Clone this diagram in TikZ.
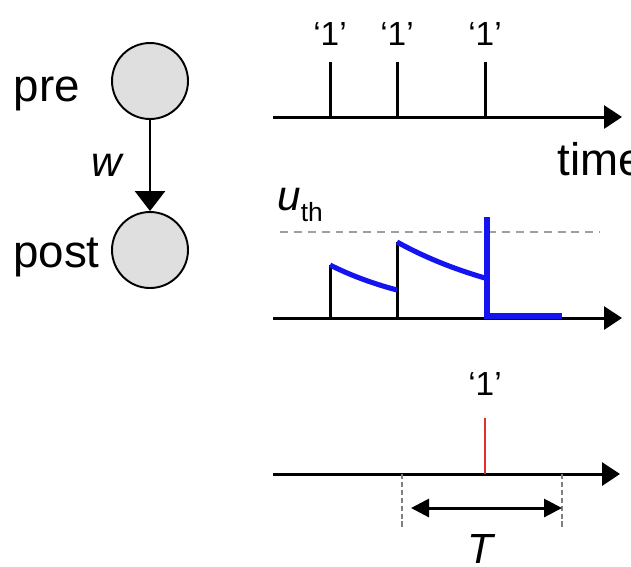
\documentclass[tikz,border=0pt]{standalone}
\usepackage{fontspec}
\setmainfont{Liberation Sans}
\usetikzlibrary{arrows.meta, positioning}
\definecolor{spikered}{RGB}{225,45,45}
\definecolor{vblue}{RGB}{20,20,240}

\begin{document}
\begin{tikzpicture}[x=0.02cm, y=-0.02cm,
    neuron/.style={circle, draw, line width=1.1pt, minimum size=1.52cm, fill=gray!25},
    lbl/.style={font=\fontsize{26}{30}\selectfont, inner sep=0pt},
    one/.style={font=\fontsize{19}{23}\selectfont, inner sep=0pt, anchor=base},
    sym/.style={font=\fontsize{24}{28}\selectfont\itshape, inner sep=0pt},
    axis/.style={line width=1.7pt, -{Triangle[length=3.6mm, width=4.6mm]}},
    spike/.style={line width=1.7pt},
    vm/.style={line width=2.9pt, vblue},
    guide/.style={gray, line width=0.9pt, dash pattern=on 3pt off 1.5pt},
    span/.style={line width=1.7pt, {Triangle[length=3.6mm, width=3.6mm]}-{Triangle[length=3.6mm, width=3.6mm]}}
]
\useasboundingbox (0,0) rectangle (631,566);

% pre -> post
\node[neuron] (pre)  at (150,81)  {};
\node[neuron] (post) at (150,250) {};
\node[lbl, anchor=base east] (prelbl)  at (80,101)  {pre};
\node[lbl, anchor=base east] (postlbl) at (100,267) {post};
\draw[line width=1.5pt, -{Triangle[length=4mm, width=6mm]}] (pre) -- (post)
    node[sym, midway, left=0.54cm] (wlbl) {w};

% input spikes
\coordinate (a1) at (273,117);
\coordinate (e1) at (622,117);
\draw[axis] (a1) -- (e1);
\foreach \t/\n in {330/s1, 397/s2, 485/s3} {
  \coordinate (\n) at (\t,117);
  \draw[spike] (\n) -- ++(0,-55);
  \node[one] (l\n) at (\t,45) {`1'};
}
\node[lbl, anchor=base west] (timelbl) at (557,175) {time};

% membrane potential
\coordinate (a2) at (273,318);
\coordinate (e2) at (622,318);
\draw[axis] (a2) -- (e2);
\draw[gray!75, line width=1.2pt, dash pattern=on 4.5pt off 3.4pt] (280,232) -- (600,232);
\node[sym, anchor=base west] (uth) at (277,210)
    {u\raisebox{-0.28em}{\fontsize{15}{17}\selectfont\upshape th}};
\draw[spike] (330,318) -- (330,265);
\draw[spike] (397,318) -- (397,242);
\draw[vm] plot[domain=0:67, samples=30] ({330+\x},{318-53*exp(-\x/105)});
\draw[vm] plot[domain=0:89, samples=30] ({397+\x},{318-76*exp(-\x/137)});
\draw[vm, line join=miter] (487,217) -- (487,316) -- (562,316);

% output spike
\coordinate (a3) at (273,474);
\coordinate (e3) at (620,474);
\draw[axis] (a3) -- (e3);
\draw[spikered, line width=1.2pt] (485,474) -- (485,418);
\node[one] (lout) at (485,395) {`1'};
\draw[guide] (402,474) -- (402,528);
\draw[guide] (562,474) -- (562,528);
\coordinate (Tl) at (411,508);
\coordinate (Tr) at (562,508);
\draw[span] (Tl) -- (Tr);
\node[sym, anchor=base] (Tlbl) at (480,563) {T};
\end{tikzpicture}
\end{document}
